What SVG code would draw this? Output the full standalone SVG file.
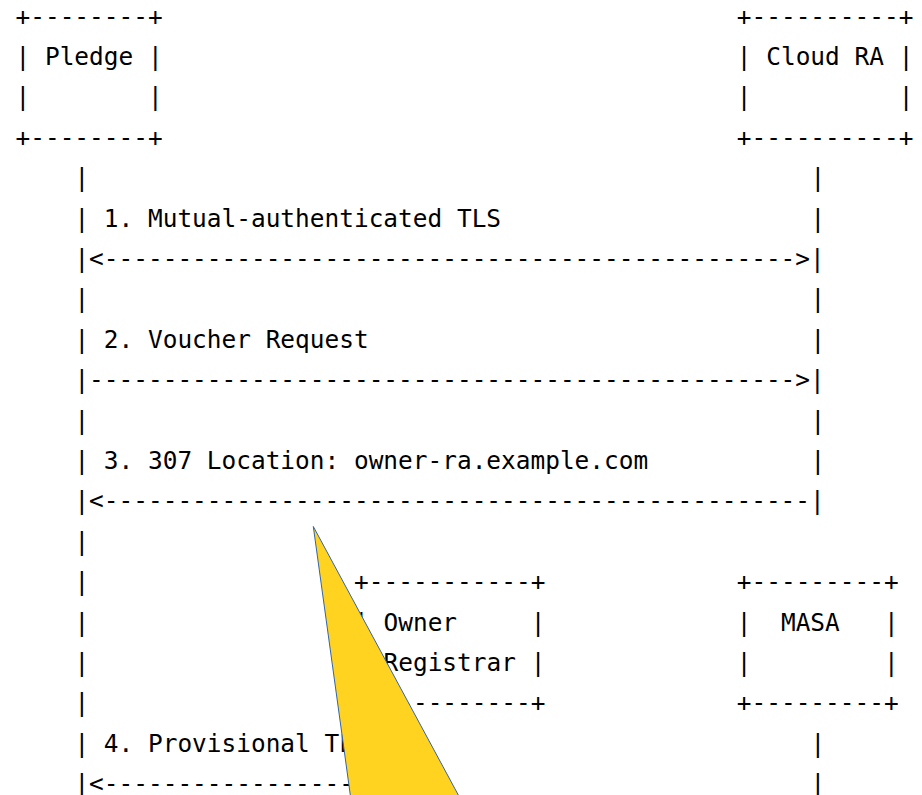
<svg xmlns="http://www.w3.org/2000/svg" width="922" height="795" viewBox="0 0 922 795">
<style>
text { font-family: "DejaVu Sans Mono", "Liberation Mono", monospace; font-size: 24.45px; fill: #000; white-space: pre; }
.tri { fill: #FFD320; stroke: #3465A4; stroke-width: 1; }
</style>
<rect x="0" y="0" width="922" height="795" fill="#ffffff"/>
<g id="pledge">
<text x="15.5" y="24.6" xml:space="preserve">+--------+</text>
<text x="15.5" y="65" xml:space="preserve">| Pledge |</text>
<text x="15.5" y="105.4" xml:space="preserve">|        |</text>
<text x="15.5" y="145.8" xml:space="preserve">+--------+</text>
</g>
<g id="cloud-ra">
<text x="736.8" y="24.6" xml:space="preserve">+----------+</text>
<text x="736.8" y="65" xml:space="preserve">| Cloud RA |</text>
<text x="736.8" y="105.4" xml:space="preserve">|          |</text>
<text x="736.8" y="145.8" xml:space="preserve">+----------+</text>
</g>
<g id="owner-registrar">
<text x="354.1" y="590.2" xml:space="preserve">+-----------+</text>
<text x="354.1" y="630.6" xml:space="preserve">| Owner     |</text>
<text x="354.1" y="671" xml:space="preserve">| Registrar |</text>
<text x="354.1" y="711.4" xml:space="preserve">+-----------+</text>
</g>
<g id="masa">
<text x="736.8" y="590.2" xml:space="preserve">+---------+</text>
<text x="736.8" y="630.6" xml:space="preserve">|  MASA   |</text>
<text x="736.8" y="671" xml:space="preserve">|         |</text>
<text x="736.8" y="711.4" xml:space="preserve">+---------+</text>
</g>
<g id="connectors">
<text x="74.4" y="186.2">|</text><text x="810.4" y="186.2">|</text>
<text x="74.4" y="226.6" xml:space="preserve">| 1. Mutual-authenticated TLS</text><text x="810.4" y="226.6">|</text>
<text x="74.4" y="267" xml:space="preserve">|&lt;----------------------------------------------->|</text>
<text x="74.4" y="307.4">|</text><text x="810.4" y="307.4">|</text>
<text x="74.4" y="347.8" xml:space="preserve">| 2. Voucher Request</text><text x="810.4" y="347.8">|</text>
<text x="74.4" y="388.2" xml:space="preserve">|------------------------------------------------>|</text>
<text x="74.4" y="428.6">|</text><text x="810.4" y="428.6">|</text>
<text x="74.4" y="469" xml:space="preserve">| 3. 307 Location: owner-ra.example.com</text><text x="810.4" y="469">|</text>
<text x="74.4" y="509.4" xml:space="preserve">|&lt;------------------------------------------------|</text>
<text x="74.4" y="549.8">|</text>
<text x="74.4" y="590.2">|</text>
<text x="74.4" y="630.6">|</text>
<text x="74.4" y="671">|</text>
<text x="74.4" y="711.4">|</text>
<text x="74.4" y="751.8" xml:space="preserve">| 4. Provisional TLS</text><text x="810.4" y="751.8">|</text>
<text x="74.4" y="792.2" xml:space="preserve">|&lt;--------------------</text><text x="810.4" y="792.2">|</text>
</g>
<polygon class="tri" points="313.3,526.5 351,800 461,800"/>
</svg>
